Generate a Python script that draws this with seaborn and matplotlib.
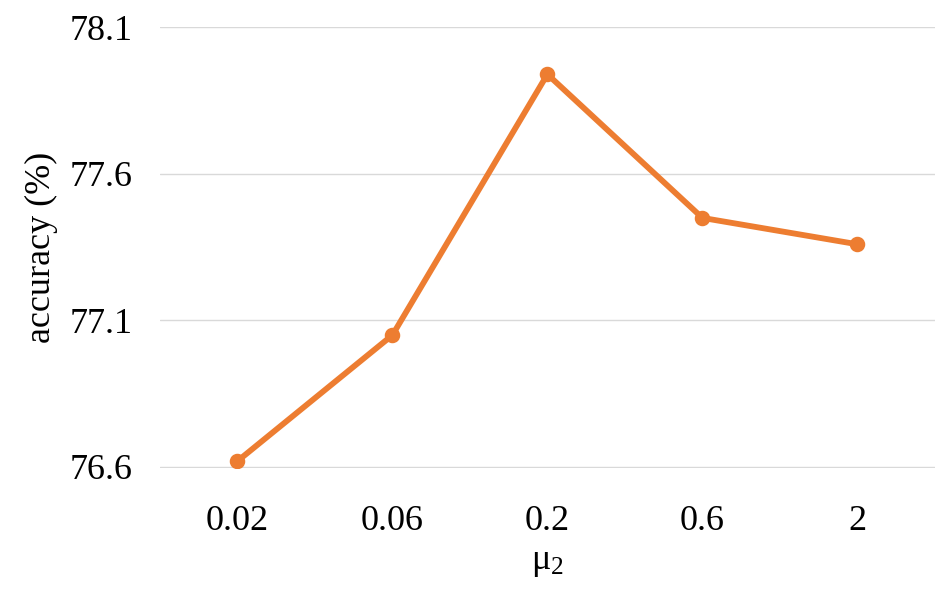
import seaborn as sns
import matplotlib.pyplot as plt
import pandas as pd

# data
mu2_labels = ["0.02", "0.06", "0.2", "0.6", "2"]
accuracy = [76.62, 77.05, 77.94, 77.45, 77.36]
y_ticks = [76.6, 77.1, 77.6, 78.1]

df = pd.DataFrame({"mu2": mu2_labels, "accuracy": accuracy})

sns.set_style("white")
plt.rcParams["font.family"] = ["Liberation Serif", "DejaVu Serif"]
plt.rcParams["mathtext.fontset"] = "custom"
plt.rcParams["mathtext.rm"] = "Liberation Serif"
plt.rcParams["mathtext.it"] = "Liberation Serif"
plt.rcParams["text.color"] = "black"
plt.rcParams["axes.labelcolor"] = "black"
plt.rcParams["xtick.color"] = "black"
plt.rcParams["ytick.color"] = "black"

fig, ax = plt.subplots(figsize=(9.52, 5.96), dpi=100)
fig.subplots_adjust(left=0.168, right=0.982, bottom=0.214, top=0.955)

sns.pointplot(data=df, x="mu2", y="accuracy", color="#ED7D31",
              markers="o", markersize=8, linewidth=4.2, ax=ax)

ax.set_ylim(y_ticks[0] - 0.005, y_ticks[-1] + 0.002)
ax.set_yticks(y_ticks)
ax.set_yticklabels([f"{t:.1f}" for t in y_ticks])
ax.set_xlim(-0.5, len(mu2_labels) - 0.5)
ax.yaxis.grid(True, color="#d9d9d9", linewidth=1)
ax.set_axisbelow(True)
for s in ax.spines.values():
    s.set_visible(False)
ax.tick_params(axis="x", length=0, labelsize=26, pad=26)
ax.tick_params(axis="y", length=0, labelsize=26, pad=20)

ax.set_xlabel(r"μ$_{\mathregular{2}}$", fontsize=26, labelpad=6)
ax.set_ylabel("accuracy (%)", fontsize=26, labelpad=8)

plt.savefig("out.png", dpi=100)
